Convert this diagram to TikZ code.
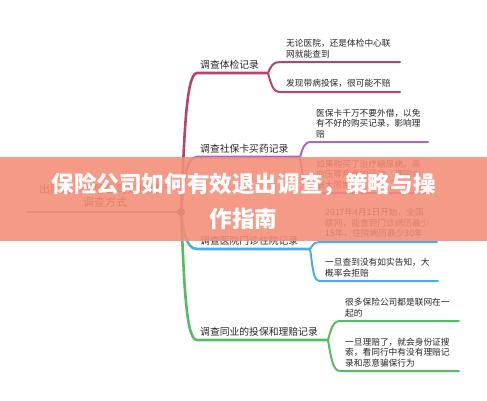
\documentclass[tikz,border=0pt]{standalone}
\usepackage{fontspec}
\newfontfamily\cjk{Noto Sans CJK SC}
\definecolor{mmCrimson}{HTML}{B4456F}
\definecolor{mmPurple}{HTML}{A66BC3}
\definecolor{mmCyan}{HTML}{4BAEDF}
\definecolor{mmGreen}{HTML}{55BB67}
\definecolor{mmRoot}{HTML}{8D8D8D}
\definecolor{mmDot}{HTML}{9A5F8E}
\definecolor{mmBanner}{HTML}{F58C78}
\tikzset{
  topic/.style={font=\cjk\fontsize{9.8}{12}\selectfont, text=black!85, anchor=south west, inner sep=0pt},
  leaf/.style={font=\cjk\fontsize{8.7}{10.5}\selectfont, text=black!85, align=left, anchor=south west, inner sep=0pt},
  stem/.style={line width=2.6pt, line cap=round},
  twig/.style={line width=2pt, line cap=round},
}

\begin{document}
\begin{tikzpicture}[x=1pt,y=-1pt]
    \useasboundingbox (0,0) rectangle (487,400);
    % Root
    \coordinate (r0) at (28,212);
    \node[circle, fill=mmDot, inner sep=0pt, minimum size=8pt] (hub) at (181,212) {};
    \node[font=\cjk\fontsize{11}{13}\selectfont, text=black!80, align=center, anchor=south, inner sep=0pt] (root) at (105,208) {出险后，保险公司如何进行\\调查方式};
    % Underline points
    \coordinate (b1s) at (197,73);  \coordinate (b1e) at (268,73);
    \coordinate (l1as) at (280,62); \coordinate (l1ae) at (400,62);
    \coordinate (l1bs) at (280,92); \coordinate (l1be) at (400,92);
    \coordinate (b2s) at (197,157); \coordinate (b2e) at (300,157);
    \coordinate (l2as) at (311,142); \coordinate (l2ae) at (428,142);
    \coordinate (l2bs) at (311,193); \coordinate (l2be) at (428,193);
    \coordinate (b3s) at (197,249); \coordinate (b3e) at (310,249);
    \coordinate (l3as) at (320,242); \coordinate (l3ae) at (437,242);
    \coordinate (l3bs) at (320,281); \coordinate (l3be) at (438,281);
    \coordinate (b4s) at (197,340); \coordinate (b4e) at (328,340);
    \coordinate (l4as) at (340,321); \coordinate (l4ae) at (459,321);
    \coordinate (l4bs) at (340,371); \coordinate (l4be) at (459,371);
    % Branch 1
    \draw[stem, mmCrimson] (hub.center) .. controls +(3,-60) and +(-12,0) .. (b1s) -- (b1e);
    \draw[twig, mmCrimson] (b1e) .. controls +(3,-7) and +(-7,0) .. (l1as) -- (l1ae);
    \draw[twig, mmCrimson] (b1e) .. controls +(3,11) and +(-7,0) .. (l1bs) -- (l1be);
    \node[topic] (t1) at (200,69) {调查体检记录};
    \node[leaf] (t1a) at (286,58) {无论医院，还是体检中心联\\网就能查到};
    \node[leaf] (t1b) at (286,88) {发现带病投保，很可能不赔};
    % Branch 2
    \draw[stem, mmPurple] (hub.center) .. controls +(2,-25) and +(-12,0) .. (b2s) -- (b2e);
    \draw[twig, mmPurple] (b2e) .. controls +(3,-9) and +(-7,0) .. (l2as) -- (l2ae);
    \draw[twig, mmPurple] (b2e) .. controls +(3,22) and +(-7,0) .. (l2bs) -- (l2be);
    \node[topic] (t2) at (200,153) {调查社保卡买药记录};
    \node[leaf] (t2a) at (316,138) {医保卡千万不要外借，以免\\有不好的购买记录，影响理\\赔};
    \node[leaf] (t2b) at (316,189) {如果购买了治疗糖尿病，高\\血压等疾病的药物，理赔会\\很大限制};
    % Branch 3
    \draw[stem, mmCyan] (hub.center) .. controls +(2,15) and +(-12,0) .. (b3s) -- (b3e);
    \draw[twig, mmCyan] (b3e) .. controls +(3,-4) and +(-6,0) .. (l3as) -- (l3ae);
    \draw[twig, mmCyan] (b3e) .. controls +(3,19) and +(-7,0) .. (l3bs) -- (l3be);
    \node[topic] (t3) at (200,245) {调查医院门诊住院记录};
    \node[leaf] (t3a) at (325,238) {2017年4月1日开始，全国\\联网，能查到门诊病历最少\\15年，住院病历最少30年};
    \node[leaf] (t3b) at (325,277) {一旦查到没有如实告知，大\\概率会拒赔};
    % Branch 4
    \draw[stem, mmGreen] (hub.center) .. controls +(3,60) and +(-12,0) .. (b4s) -- (b4e);
    \draw[twig, mmGreen] (b4e) .. controls +(3,-11) and +(-7,0) .. (l4as) -- (l4ae);
    \draw[twig, mmGreen] (b4e) .. controls +(3,18) and +(-7,0) .. (l4bs) -- (l4be);
    \node[topic] (t4) at (200,336) {调查同业的投保和理赔记录};
    \node[leaf] (t4a) at (345,317) {很多保险公司都是联网在一\\起的};
    \node[leaf] (t4b) at (345,367) {一旦理赔了，就会身份证搜\\索，看同行中有没有理赔记\\录和恶意骗保行为};
    % Root line and hub on top
    \draw[stem, mmRoot] (r0) -- (hub.center);
    \node[circle, fill=mmDot, inner sep=0pt, minimum size=8pt] at (hub) {};
    % Banner
    \fill[mmBanner, fill opacity=0.88] (0,157) rectangle (487,241);
    \node[font=\cjk\bfseries\fontsize{22.6}{35}\selectfont, text=white, align=center] (head) at (243.5,201) {保险公司如何有效退出调查，策略与操\\作指南};
  \end{tikzpicture}
\end{document}
